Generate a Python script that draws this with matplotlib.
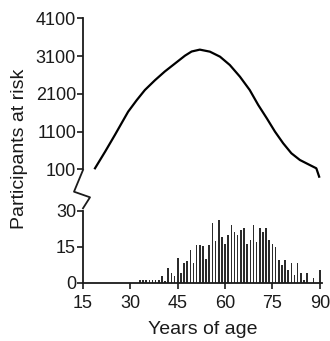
import numpy as np
import matplotlib
matplotlib.use('Agg')
import matplotlib.pyplot as plt
from matplotlib.lines import Line2D

plt.rcParams['font.family'] = ['Liberation Sans', 'DejaVu Sans']

# participants at risk (upper panel)
risk_age = [18.8, 22, 25.1, 27.2, 29.3, 32, 34.6, 37.8, 40.9, 44.1, 47.3, 49.4, 52,
            55.2, 58.4, 61.5, 64.7, 67.8, 70.5, 73.2, 75.8, 78.4, 81, 83.7, 86.8,
            88.9, 89.8]
risk_n = [126, 566, 1009, 1318, 1626, 1930, 2200, 2460, 2690, 2900, 3110, 3220, 3270,
          3216, 3083, 2863, 2554, 2201, 1804, 1452, 1098, 789, 524, 346, 214,
          126, -96]

# events per year of age (lower panel)
bar_age = list(range(33, 91))
bar_n = [1, 1, 1, 1, 1, 1, 1, 2.9, 0.8, 6, 3.9, 2.9, 10.4, 3.9, 8.3, 9.2, 13.5, 8.3,
         15.7, 15.7, 15.5, 10, 15.7, 25, 17.5, 26, 19, 16, 20, 24, 21, 20, 22, 23,
         16, 18, 24, 17, 23, 21, 23, 18, 16, 15, 9.4, 7.4, 9.4, 5.3, 8.3, 3.2, 8.3,
         4.2, 1.1, 4.2, 0, 2.1, 0, 5.3]

W, H = 330, 341
fig = plt.figure(figsize=(W / 100, H / 100), dpi=100)

def box(x0, y0, x1, y1):
    # pixel box (top-left origin) -> figure fraction rect
    return [x0 / W, (H - y1) / H, (x1 - x0) / W, (y1 - y0) / H]

ax_top = fig.add_axes(box(83, 18.3, 322, 180.6))
ax_bot = fig.add_axes(box(83, 210.7, 322, 282.7))

tc = '#1a1a1a'
for ax in (ax_top, ax_bot):
    ax.set_xlim(15, 90.7)
    for s in ('top', 'right'):
        ax.spines[s].set_visible(False)
    for s in ('left', 'bottom'):
        ax.spines[s].set_linewidth(1.3)
        ax.spines[s].set_color(tc)
    ax.tick_params(labelsize=13, length=4, width=1.2, pad=1, colors=tc)

ax_top.plot(risk_age, risk_n, color='black', lw=1.6)
ax_top.set_ylim(-200, 4100)
ax_top.spines['bottom'].set_visible(False)
ax_top.spines['left'].set_bounds(100, 4100)
ax_top.set_yticks([100, 1100, 2100, 3100, 4100])
ax_top.set_xticks([])

ax_bot.bar(bar_age, bar_n, width=0.5, color='#2b2b2b', linewidth=0)
ax_bot.set_ylim(0, 30)
ax_bot.set_yticks([0, 15, 30])
ax_bot.set_xticks([15, 30, 45, 60, 75, 90])
ax_bot.tick_params(axis='x', pad=5)
ax_bot.set_xlabel('Years of age', fontsize=14, color=tc, labelpad=6)

# axis break zigzag
zx = [83, 74, 90, 83]
zy = [170, 191.7, 197.3, 208.3]
fig.add_artist(Line2D([x / W for x in zx], [(H - y) / H for y in zy],
                      transform=fig.transFigure, color=tc, lw=1.3))

fig.text(20 / W, (H - 149) / H, 'Participants at risk', rotation=90,
         fontsize=14, color=tc, ha='center', va='center')

fig.savefig('out.png', dpi=100)
